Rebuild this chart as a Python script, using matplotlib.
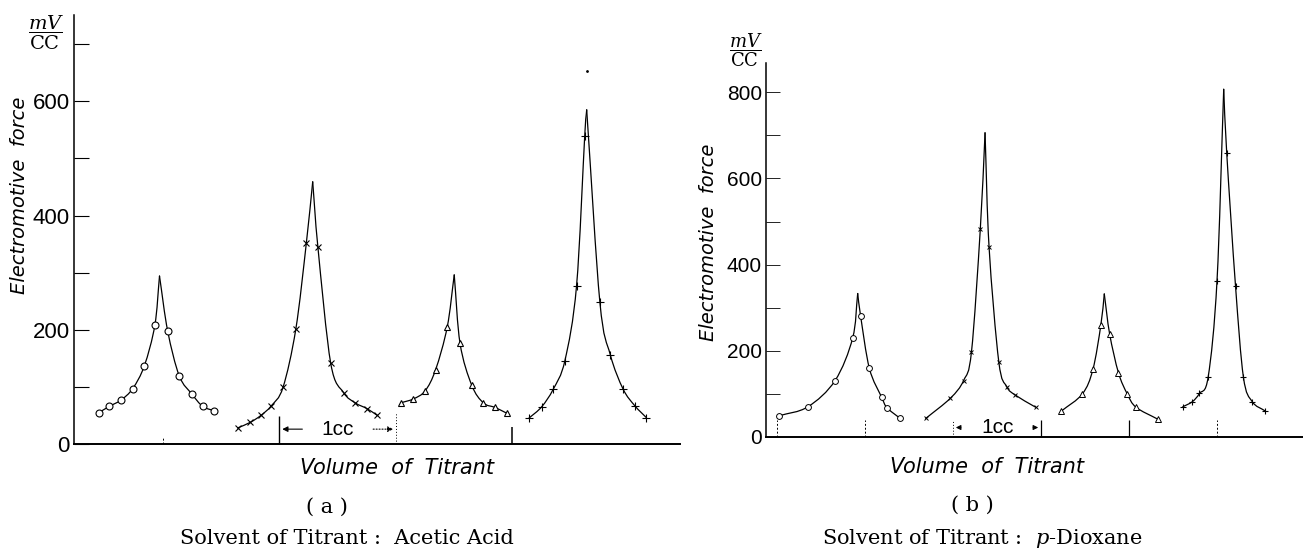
import numpy as np
import matplotlib
matplotlib.use("Agg")
import matplotlib.pyplot as plt
from matplotlib.path import Path
from matplotlib.patches import PathPatch

plt.rcParams["mathtext.fontset"] = "dejavuserif"

# ---------------------------------------------------
# data (x in cc, y in mV/cc)
# each curve: left-side points, peak, right-side points
# ---------------------------------------------------
# (a) acetic acid
a_circ_x = [0.45, 0.54, 0.64, 0.74, 0.84, 0.93, 1.04, 1.14, 1.25, 1.34, 1.44]
a_circ_y = [55, 66, 77, 97, 137, 208, 198, 119, 87, 66, 58]
a_circ_peak = (0.97, 294)

a_cross_x = [1.64, 1.75, 1.84, 1.93, 2.03, 2.14, 2.23, 2.33, 2.44, 2.55, 2.65, 2.75, 2.84]
a_cross_y = [28, 38, 50, 67, 99, 201, 351, 344, 141, 90, 72, 62, 50]
a_cross_peak = (2.285, 459)

a_tri_x = [3.04, 3.15, 3.25, 3.34, 3.44, 3.55, 3.65, 3.75, 3.85, 3.95]
a_tri_y = [72, 79, 93, 130, 205, 176, 103, 72, 64, 54]
a_tri_peak = (3.50, 296)

a_plus_x = [4.14, 4.25, 4.35, 4.45, 4.55, 4.62, 4.75, 4.84, 4.95, 5.05, 5.15]
a_plus_y = [45, 65, 96, 146, 277, 539, 249, 156, 96, 67, 46]
a_plus_peak = (4.637, 585)
a_stray = (4.637, 653)

# (b) p-dioxane
b_circ_x = [0.02, 0.35, 0.66, 0.86, 0.95, 1.05, 1.19, 1.25, 1.40]
b_circ_y = [49, 70, 131, 230, 281, 159, 92, 68, 43]
b_circ_peak = (0.917, 333)

b_cross_x = [1.69, 1.97, 2.12, 2.21, 2.31, 2.41, 2.52, 2.61, 2.71, 2.94]
b_cross_y = [43, 90, 131, 198, 482, 440, 175, 117, 97, 69]
b_cross_peak = (2.364, 706)

b_tri_x = [3.23, 3.47, 3.59, 3.68, 3.78, 3.88, 3.98, 4.08, 4.33]
b_tri_y = [60, 100, 157, 260, 239, 149, 100, 69, 41]
b_tri_peak = (3.719, 332)

b_plus_x = [4.61, 4.72, 4.80, 4.90, 5.00, 5.11, 5.21, 5.30, 5.40, 5.55]
b_plus_y = [70, 82, 101, 140, 363, 660, 351, 139, 82, 60]
b_plus_peak = (5.076, 807)

a_yticks = [0, 100, 200, 300, 400, 500, 600, 700]
a_ylabels = ["0", "", "200", "", "400", "", "600", ""]
b_yticks = [0, 100, 200, 300, 400, 500, 600, 700, 800]
b_ylabels = ["0", "", "200", "", "400", "", "600", "", "800"]

W, H = 1303, 551
TICK_FONT = ["Liberation Sans", "DejaVu Sans"]


def smooth_line(ax, xs, ys, lw=0.9):
    # Catmull-Rom through the points, drawn as bezier segments
    pts = np.column_stack([xs, ys]).astype(float)
    tang = np.zeros_like(pts)
    tang[1:-1] = (pts[2:] - pts[:-2]) / 2
    tang[0] = pts[1] - pts[0]
    tang[-1] = pts[-1] - pts[-2]
    verts = [pts[0]]
    codes = [Path.MOVETO]
    for i in range(len(pts) - 1):
        verts += [pts[i] + tang[i] / 3, pts[i + 1] - tang[i + 1] / 3, pts[i + 1]]
        codes += [Path.CURVE4] * 3
    ax.add_patch(PathPatch(Path(verts, codes), fill=False, lw=lw, ec="k",
                           capstyle="round", zorder=2))


def draw_peak(ax, xs, ys, peak, marker, ms, mew=0.8):
    xs = np.asarray(xs, float)
    ys = np.asarray(ys, float)
    left = xs < peak[0]
    lx = list(xs[left]) + [peak[0]]
    ly = list(ys[left]) + [peak[1]]
    rx = [peak[0]] + list(xs[~left])
    ry = [peak[1]] + list(ys[~left])
    smooth_line(ax, lx, ly)
    smooth_line(ax, rx, ry)
    ax.plot(xs, ys, ls="none", marker=marker, ms=ms, mfc="white", mec="k",
            mew=mew, zorder=3)


def setup_axes(ax, yticks, ylabels, ylim, xlim, fs):
    ax.set_xlim(*xlim)
    ax.set_ylim(*ylim)
    for s in ["top", "right"]:
        ax.spines[s].set_visible(False)
    ax.spines["left"].set_linewidth(1.1)
    ax.spines["bottom"].set_linewidth(1.4)
    ax.set_xticks([])
    ax.set_yticks(yticks)
    ax.set_yticklabels(ylabels, family=TICK_FONT, fontsize=fs)
    ax.tick_params(axis="y", direction="in", length=11, width=0.8, pad=3)


def px(x, y):
    return x / W, 1 - y / H


fig = plt.figure(figsize=(W / 100, H / 100), dpi=100)

# ---------------------------------------------------
# panel (a)
# ---------------------------------------------------
ax1 = fig.add_axes([74 / W, 1 - 444 / H, 606 / W, 429 / H])
setup_axes(ax1, a_yticks, a_ylabels, (0, 751), (0.236, 5.438), 16)

draw_peak(ax1, a_circ_x, a_circ_y, a_circ_peak, "o", 5)
draw_peak(ax1, a_cross_x, a_cross_y, a_cross_peak, "x", 4)
draw_peak(ax1, a_tri_x, a_tri_y, a_tri_peak, "^", 5)
draw_peak(ax1, a_plus_x, a_plus_y, a_plus_peak, "+", 5.5)
ax1.plot(*a_stray, marker=".", ms=2, color="k")

ax1.vlines(1, 0, 12, color="k", lw=0.7, ls=(0, (2, 2)))
ax1.vlines(2, 0, 49, color="k", lw=1.0)
ax1.vlines(3, 0, 56, color="k", lw=0.7, ls=(0, (1, 2)))
ax1.vlines(4, 0, 30, color="k", lw=1.1)
ax1.annotate("", xy=(2.0, 26), xytext=(2.22, 26),
             arrowprops=dict(arrowstyle="-|>", lw=0.8, color="k", mutation_scale=8))
ax1.annotate("", xy=(3.0, 26), xytext=(2.78, 26),
             arrowprops=dict(arrowstyle="-|>", lw=0.8, color="k", ls=":",
                             mutation_scale=8))
ax1.text(2.5, 26, "1cc", ha="center", va="center", fontsize=15, family=TICK_FONT)

# ---------------------------------------------------
# panel (b)
# ---------------------------------------------------
ax2 = fig.add_axes([766 / W, 1 - 437 / H, 537 / W, 374 / H])
setup_axes(ax2, b_yticks, b_ylabels, (0, 868), (-0.125, 5.977), 15)
ax2.tick_params(axis="y", length=10, width=0.6)

draw_peak(ax2, b_circ_x, b_circ_y, b_circ_peak, "o", 4.2, 0.7)
draw_peak(ax2, b_cross_x, b_cross_y, b_cross_peak, "x", 3.4, 0.7)
draw_peak(ax2, b_tri_x, b_tri_y, b_tri_peak, "^", 4.2, 0.7)
draw_peak(ax2, b_plus_x, b_plus_y, b_plus_peak, "+", 4.5, 0.8)

ax2.vlines([0, 1, 5], 0, 40, color="k", lw=0.7, ls=(0, (2, 2)))
ax2.vlines(2, 0, 40, color="k", lw=0.7, ls=(0, (1, 2)))
ax2.vlines([3, 4], 0, 40, color="k", lw=0.9)
ax2.annotate("", xy=(2.0, 22), xytext=(2.12, 22),
             arrowprops=dict(arrowstyle="-|>", lw=0.8, color="k", mutation_scale=7))
ax2.annotate("", xy=(3.0, 22), xytext=(2.88, 22),
             arrowprops=dict(arrowstyle="-|>", lw=0.8, color="k", mutation_scale=7))
ax2.text(2.51, 22, "1cc", ha="center", va="center", fontsize=15, family=TICK_FONT)

# ---------------------------------------------------
# labels
# ---------------------------------------------------
unit = r"$\dfrac{mV}{\mathrm{CC}}$"
fig.text(*px(46, 33), unit, ha="center", va="center", fontsize=14)
fig.text(*px(746, 50), unit, ha="center", va="center", fontsize=13)

fig.text(*px(20, 195), "Electromotive  force", rotation=90, ha="center",
         va="center", fontsize=14, style="italic")
fig.text(*px(708, 242), "Electromotive  force", rotation=90, ha="center",
         va="center", fontsize=14, style="italic")

fig.text(*px(397, 468), "Volume  of  Titrant", ha="center", va="center",
         fontsize=15, style="italic")
fig.text(*px(987, 467), "Volume  of  Titrant", ha="center", va="center",
         fontsize=15, style="italic")

fig.text(*px(327, 507), "( a )", ha="center", va="center", fontsize=15,
         family="DejaVu Serif")
fig.text(*px(972, 505), "( b )", ha="center", va="center", fontsize=15,
         family="DejaVu Serif")
fig.text(*px(347, 539), "Solvent of Titrant :  Acetic Acid", ha="center",
         va="center", fontsize=15, family="DejaVu Serif")
fig.text(*px(982, 539), "Solvent of Titrant :  $p$-Dioxane", ha="center",
         va="center", fontsize=15, family="DejaVu Serif")

fig.savefig("out.png", dpi=100, facecolor="white")
